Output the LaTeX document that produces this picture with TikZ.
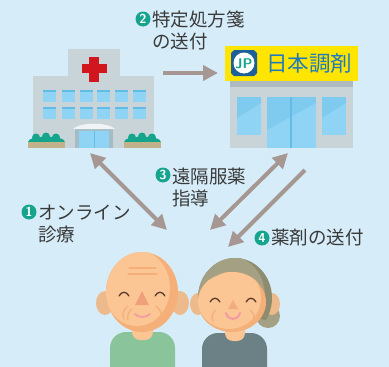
\documentclass[tikz,border=0pt]{standalone}
\usepackage{fontspec}
\newfontfamily\jpfont{Noto Sans CJK JP}
\usetikzlibrary{arrows.meta, positioning, calc}

\definecolor{skyback}{HTML}{D6EDF9}
\definecolor{wallgray}{HTML}{C9D4D9}
\definecolor{bandgray}{HTML}{AFBAC0}
\definecolor{doorframe}{HTML}{A3BCC6}
\definecolor{glass}{HTML}{8FD4F4}
\definecolor{glasstop}{HTML}{63BCE6}
\definecolor{crossred}{HTML}{D1161E}
\definecolor{shrub}{HTML}{14A58C}
\definecolor{planter}{HTML}{C2B28C}
\definecolor{arrowgray}{HTML}{A69793}
\definecolor{markteal}{HTML}{16A48E}
\definecolor{signyellow}{HTML}{FFE500}
\definecolor{signblue}{HTML}{1F7BBE}
\definecolor{logoblue}{HTML}{1D5F99}
\definecolor{skin}{HTML}{FBC594}
\definecolor{skindark}{HTML}{F5AF78}
\definecolor{earskin}{HTML}{EDBA8C}
\definecolor{nosecol}{HTML}{EFA07A}
\definecolor{eyecol}{HTML}{5A3B2E}
\definecolor{lippink}{HTML}{F29BA4}
\definecolor{shirtgreen}{HTML}{89C49A}
\definecolor{shirtgray}{HTML}{6C8185}
\definecolor{hair}{HTML}{A3A083}
\definecolor{hairdark}{HTML}{8E8B6F}
\definecolor{textgray}{HTML}{3A3A3A}

\begin{document}
\begin{tikzpicture}[
  x=1pt, y=-1pt,
  lbl/.style={font=\jpfont\fontsize{18.5}{22}\selectfont, text=textgray,
              align=left, inner sep=0pt},
  numdot/.style={circle, fill=markteal, inner sep=0pt, minimum size=15pt,
                 text=white, font=\sffamily\bfseries\fontsize{13}{13}\selectfont},
  link/.style={draw=arrowgray, line width=4pt,
               -{Triangle[length=15pt, width=15pt]}},
  twoway/.style={link, {Triangle[length=15pt, width=15pt]}-{Triangle[length=15pt, width=15pt]}},
  window/.style={fill=glass},
  wrinkle/.style={draw=skindark, line width=1.3pt, line cap=round},
  eyeline/.style={draw=eyecol, line width=1.3pt, line cap=round}
]

% ── Backdrop ──
\fill[skyback] (0,0) rectangle (389,367);
\useasboundingbox (0,0) rectangle (389,367);

% ── Hospital ──
\fill[wallgray] (68,49) rectangle (120,76);
\fill[wallgray] (33,76) rectangle (154,148);
\fill[crossred] (82,64) rectangle (107,73);
\fill[crossred] (89,57) rectangle (99,82);
\foreach \wx in {43,62,80,97,115,133}
  \foreach \wy in {90,107} {
    \fill[window] (\wx,\wy) rectangle ++(13,12);
    \fill[glasstop] (\wx,\wy) rectangle ++(13,2);
  }
\fill[doorframe] (75,128) rectangle (113,148);
\fill[glass] (79,131) rectangle (109,148);
\draw[glasstop, line width=1pt] (94,131) -- (94,148);
\fill[white!75!wallgray] (73,129) .. controls (80,122) and (108,122) .. (115,129) -- cycle;
% shrubs in planters
\foreach \bx in {28,124} {
  \fill[planter] (\bx,142) rectangle ++(37,6);
  \fill[shrub] (\bx,142) .. controls (\bx,135) and (\bx+37,135) .. (\bx+37,142) -- cycle;
  \fill[shrub] (\bx+8,137.5) circle (4pt);
  \fill[shrub] (\bx+18,136.5) circle (4pt);
  \fill[shrub] (\bx+28,137.5) circle (4pt);
}

% ── Pharmacy ──
\fill[signyellow] (225,46) rectangle (358,81);
\fill[bandgray] (230,81) rectangle (353,87);
\fill[wallgray] (230,87) rectangle (353,148);
\fill[window] (237,97) rectangle (261,135);
\fill[window] (322,97) rectangle (346,135);
\fill[window] (267,97) rectangle (316,148);
\fill[glasstop, opacity=0.35] (237,97) -- (261,97) -- (261,103) -- (237,118) -- cycle;
\fill[glasstop, opacity=0.35] (322,97) -- (346,97) -- (346,103) -- (322,118) -- cycle;
\fill[glasstop, opacity=0.35] (267,97) -- (316,97) -- (316,103) -- (267,130) -- cycle;
\draw[glasstop, line width=1.2pt] (291,97) -- (291,148);
% shop sign
\fill[logoblue] (234,50) -- (254,50) -- (257,53) -- (257,73) -- (254,76)
  -- (234,76) -- (231,73) -- (231,53) -- cycle;
\fill[white] (244,63) circle (10.5pt);
\node[font=\sffamily\bfseries\fontsize{14}{14}\selectfont, text=markteal,
      inner sep=0pt] (logo) at (244,63.5) {JP};
\node[font=\jpfont\fontsize{21.5}{21.5}\selectfont, text=signblue, inner sep=0pt,
      anchor=west] (signtxt) at (266,63.5) {日本調剤};

% ── Elderly couple ──
% husband
\fill[earskin] (105,303) ellipse [x radius=9pt, y radius=12pt];
\fill[earskin] (180,303) ellipse [x radius=9pt, y radius=12pt];
\fill[shirtgreen] (110,367) [rounded corners=16pt] -- (110,332) -- (175,332)
  [sharp corners] -- (175,367) -- cycle;
\fill[skin, rounded corners=8pt] (132,315) rectangle (153,340);
\begin{scope}
  \clip (142,292) ellipse [x radius=36pt, y radius=40pt];
  \fill[skindark] (100,250) rectangle (185,335);
  \fill[skin] (137,288) ellipse [x radius=33pt, y radius=38pt];
\end{scope}
\draw[wrinkle] (129,268) -- (156,268);
\draw[wrinkle] (128,274) -- (157,274);
\draw[eyeline] (119,296) .. controls (122,291) and (126,291) .. (129,296);
\draw[eyeline] (155,296) .. controls (158,291) and (162,291) .. (165,296);
\fill[nosecol] (142,291) -- (135,305) -- (149,305) -- cycle;
\draw[lippink, line width=1.8pt, line cap=round]
  (135,314) .. controls (139,318) and (146,318) .. (150,314);
\draw[wrinkle] (128,306) .. controls (123,310) and (122,314) .. (124,319);
\draw[wrinkle] (132,309) .. controls (128,312) and (127,316) .. (128,320);
\draw[wrinkle] (156,306) .. controls (161,310) and (162,314) .. (160,319);

% wife
\fill[hair] (268,316) circle (12pt);
\fill[earskin] (198,304) ellipse [x radius=8pt, y radius=11pt];
\fill[earskin] (272,304) ellipse [x radius=8pt, y radius=11pt];
\fill[shirtgray] (202,367) [rounded corners=16pt] -- (202,333) -- (267,333)
  [sharp corners] -- (267,367) -- cycle;
\fill[skin, rounded corners=8pt] (225,318) rectangle (245,341);
\begin{scope}
  \clip (190,250) -- (280,250) -- (280,325) -- (190,296) -- cycle;
  \clip (235,298) ellipse [x radius=37pt, y radius=40pt];
  \fill[hairdark] (195,255) rectangle (275,335);
  \fill[hair] (230,296) ellipse [x radius=35pt, y radius=40pt];
\end{scope}
\begin{scope}
  \clip (232,302) ellipse [x radius=34pt, y radius=30pt];
  \fill[skindark] (195,270) rectangle (270,335);
  \fill[skin] (229,298) ellipse [x radius=32pt, y radius=31pt];
  \fill[hair] (190,296) .. controls (205,278) and (228,268) .. (248,270)
    .. controls (258,280) and (265,295) .. (275,305) -- (275,250) -- (190,250) -- cycle;
\end{scope}
\draw[eyeline] (210,302) .. controls (213,297) and (217,297) .. (220,302);
\draw[eyeline] (246,302) .. controls (249,297) and (253,297) .. (256,302);
\fill[nosecol!70!skin] (233,300) -- (228,309) -- (238,309) -- cycle;
\draw[lippink, line width=2pt, line cap=round]
  (226,313) .. controls (228,321) and (238,321) .. (240,313);
\draw[wrinkle] (216,310) .. controls (212,313) and (211,317) .. (213,321);
\draw[wrinkle] (250,310) .. controls (254,313) and (255,317) .. (253,321);

% ── Arrow ends ──
\coordinate (hosp-send) at (163,73);
\coordinate (pharm-recv) at (218,73);
\coordinate (hosp-foot) at (90,153);
\coordinate (couple-left) at (167,230);
\coordinate (pharm-foot) at (288,153);
\coordinate (couple-mid) at (210,230);
\coordinate (pharm-ship) at (305,170);
\coordinate (couple-right) at (228,247);

\draw[link] (hosp-send) -- (pharm-recv);
\draw[twoway] (hosp-foot) -- (couple-left);
\draw[twoway] (pharm-foot) -- (couple-mid);
\draw[link] (pharm-ship) -- (couple-right);

% ── Step labels ──
\node[numdot] (n1) at (29,212) {1};
\node[lbl, anchor=west] (l1) at (38,224) {オンライン\\診療};
\node[numdot] (n2) at (143,19) {2};
\node[lbl, anchor=west] (l2) at (152,30) {特定処方箋\\の送付};
\node[numdot] (n3) at (163,175) {3};
\node[lbl, anchor=west] (l3) at (172,187) {遠隔服薬\\指導};
\node[numdot] (n4) at (262,238) {4};
\node[lbl, anchor=west] (l4) at (271,238) {薬剤の送付};

\end{tikzpicture}
\end{document}
